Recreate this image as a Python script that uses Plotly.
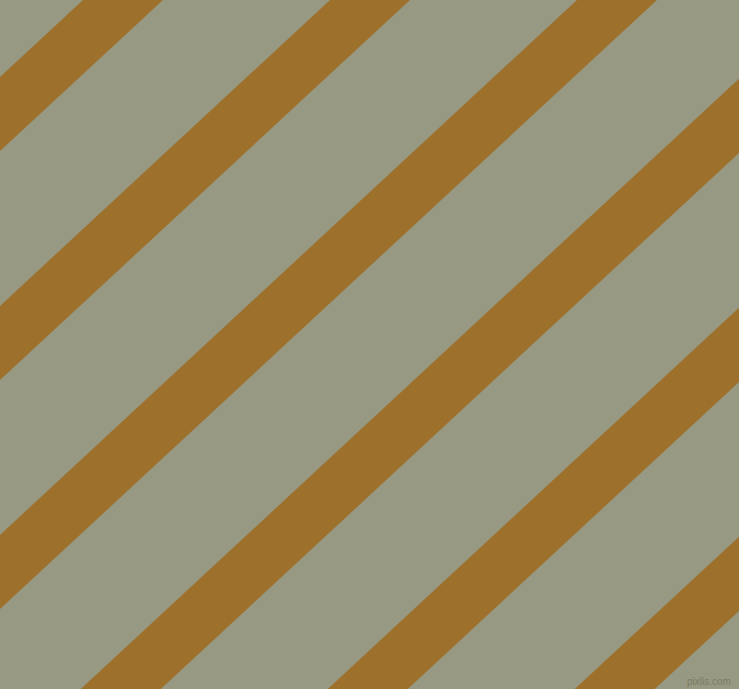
import plotly.graph_objects as go

# Pattern data: stripe left-edge intercepts along the top border (px), width, slope
stripe_starts = [83, 330, 577, 824, 1071, 1318]
stripe_width = 80
slope = 0.927  # dy/dx of stripe edges

W, H = 739, 689
bg_color = "#979983"
stripe_color = "#9d702c"

fig = go.Figure()
y0, y1 = -5, H + 5
for a in stripe_starts:
    xs = [a - y0 / slope, a + stripe_width - y0 / slope,
          a + stripe_width - y1 / slope, a - y1 / slope, a - y0 / slope]
    ys = [y0, y0, y1, y1, y0]
    fig.add_trace(go.Scatter(x=xs, y=ys, mode="lines", fill="toself",
                             fillcolor=stripe_color, line=dict(width=0),
                             hoverinfo="skip", showlegend=False))

fig.add_annotation(x=733, y=681, xref="x", yref="y", text="pixlis.com",
                   showarrow=False, xanchor="right", yanchor="middle",
                   font=dict(family="Liberation Sans", size=10, color="#7d7a62"))

fig.update_layout(
    width=W, height=H, margin=dict(l=0, r=0, t=0, b=0),
    paper_bgcolor=bg_color, plot_bgcolor=bg_color,
    xaxis=dict(range=[0, W], visible=False, fixedrange=True),
    yaxis=dict(range=[H, 0], visible=False, fixedrange=True),
)
fig.write_html("out.html", config={"displayModeBar": False},
               post_script="document.body.style.margin='0';document.body.style.overflow='hidden';")
